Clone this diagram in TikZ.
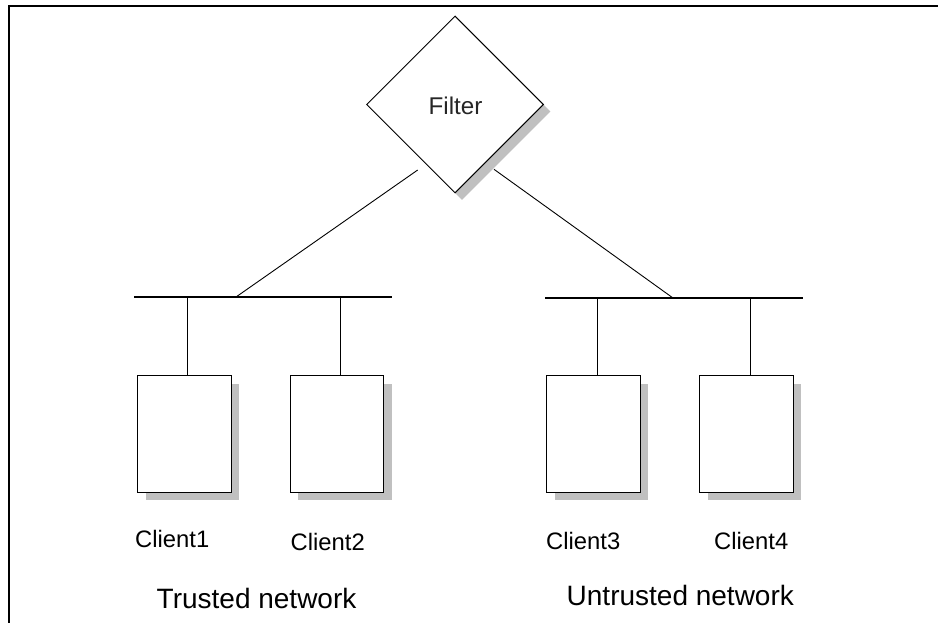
\documentclass[tikz,border=0pt]{standalone}
\usepackage{fontspec}
\setmainfont{Liberation Sans}
\usetikzlibrary{shapes.geometric}
\definecolor{shadowgrey}{HTML}{C0C0C0}
\tikzset{
  client/.style={draw=black, line width=1pt, fill=white, rectangle, minimum width=93.5pt, minimum height=116.7pt, inner sep=0pt},
  clientshadow/.style={fill=shadowgrey, rectangle, minimum width=93.5pt, minimum height=116.7pt, inner sep=0pt},
  filterbox/.style={draw=black, line width=1pt, fill=white, diamond, minimum width=177pt, minimum height=177pt, inner sep=0pt},
  filtershadow/.style={fill=shadowgrey, diamond, minimum width=177pt, minimum height=177pt, inner sep=0pt},
  bus/.style={line width=2.2pt},
  wire/.style={line width=0.9pt},
  lbl/.style={anchor=base west, inner sep=0pt, font=\fontsize{23.8pt}{25pt}\selectfont},
  netlbl/.style={anchor=base west, inner sep=0pt, font=\fontsize{28pt}{30pt}\selectfont},
}
\begin{document}
\begin{tikzpicture}[x=1pt, y=-1pt]
\useasboundingbox (0,0) rectangle (938,623);
% frame (only top and left edges visible)
\draw[line width=1.8pt] (9,623) -- (9,6) -- (938,6);

% filter
\node[filtershadow] (fsh) at (462,111.5) {};
\node[filterbox] (filter) at (455,104.5) {};
\node[anchor=base, inner sep=0pt, font=\fontsize{24.2pt}{25pt}\selectfont, text=black!85] (ftext) at (455.5,115) {Filter};

% clients
\node[clientshadow] (s1) at (192.25,441.9) {};
\node[clientshadow] (s2) at (344.9,441.9) {};
\node[clientshadow] (s3) at (601.4,441.9) {};
\node[clientshadow] (s4) at (754.7,441.9) {};
\node[client] (c1) at (184.25,433.9) {};
\node[client] (c2) at (336.9,433.9) {};
\node[client] (c3) at (593.4,433.9) {};
\node[client] (c4) at (746.7,433.9) {};

% buses
\coordinate (busLa) at (134.3,297);
\coordinate (busLb) at (391.7,297);
\coordinate (busRa) at (545,298);
\coordinate (busRb) at (802.7,298);
\draw[bus] (busLa) -- (busLb);
\draw[bus] (busRa) -- (busRb);

% drops
\coordinate (d1) at (187.3,297);
\coordinate (d2) at (340.7,297);
\coordinate (d3) at (597,298);
\coordinate (d4) at (750.3,298);
\draw[wire] (d1) -- (d1 |- c1.north);
\draw[wire] (d2) -- (d2 |- c2.north);
\draw[wire] (d3) -- (d3 |- c3.north);
\draw[wire] (d4) -- (d4 |- c4.north);

% links to filter
\coordinate (fl) at (417.7,170);
\coordinate (fr) at (494,169.3);
\coordinate (jl) at (236,297);
\coordinate (jr) at (673,298);
\draw[wire] (jl) -- (fl);
\draw[wire] (fr) -- (jr);

% labels
\node[lbl] (t1) at (135,547.3) {Client1};
\node[lbl] (t2) at (290.5,550) {Client2};
\node[lbl] (t3) at (546,549.3) {Client3};
\node[lbl] (t4) at (714,549) {Client4};
\node[netlbl] (tn) at (156.5,608.3) {Trusted network};
\node[netlbl] (un) at (566.5,605) {Untrusted network};
\end{tikzpicture}
\end{document}
